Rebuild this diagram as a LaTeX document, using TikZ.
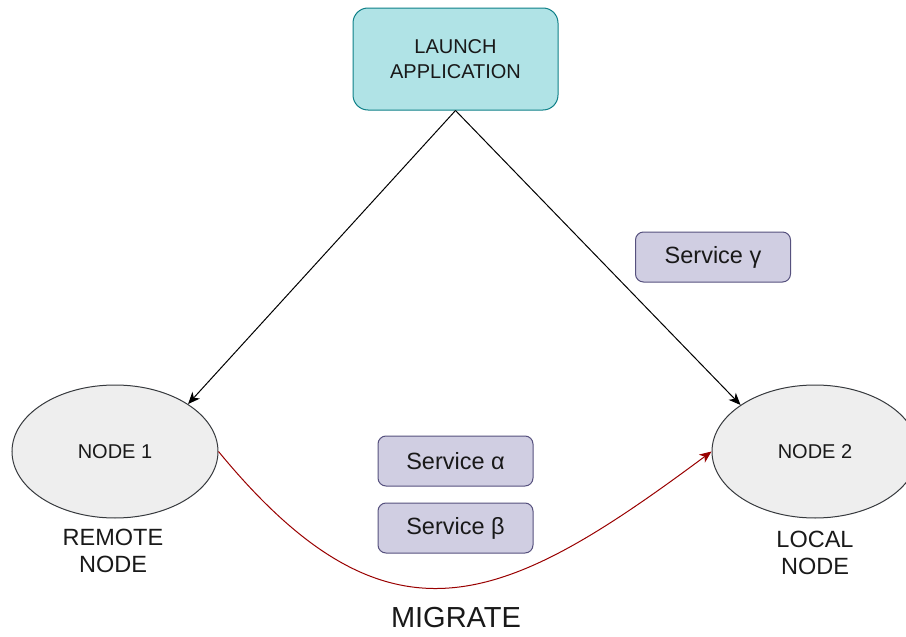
\documentclass[tikz,border=0pt]{standalone}
\usepackage{fontspec}
\setmainfont{Liberation Sans}
\usepackage{tikz}
\usetikzlibrary{calc,positioning,shapes,shapes.geometric,arrows,arrows.meta}

\definecolor{launchfill}{HTML}{B0E3E6}
\definecolor{launchline}{HTML}{0E8088}
\definecolor{servfill}{HTML}{D0CEE2}
\definecolor{servline}{HTML}{56517E}
\definecolor{nodefill}{HTML}{EEEEEE}
\definecolor{nodeline}{HTML}{36393D}
\definecolor{migred}{HTML}{990000}

\begin{document}
\begin{tikzpicture}[x=1pt, y=-1pt, line width=1pt]
\tikzstyle{launch}=[rectangle, rounded corners=15pt, draw=launchline, fill=launchfill,
                    minimum width=205pt, minimum height=102pt, align=center,
                    text=black!90, font=\fontsize{20}{25}\selectfont]
\tikzstyle{service}=[rectangle, rounded corners=8pt, draw=servline, fill=servfill,
                     minimum width=155pt, minimum height=50pt, inner sep=0pt,
                     text=black!90, font=\fontsize{23.5}{27}\selectfont]
\tikzstyle{host}=[ellipse, draw=nodeline, fill=nodefill, inner sep=0pt,
                  minimum width=206pt, minimum height=133pt,
                  text=black!90, font=\fontsize{20}{24}\selectfont]
\tikzstyle{caption}=[align=center, inner sep=0pt, text=black!90,
                     font=\fontsize{23.5}{27}\selectfont]
\tikzstyle{tip}=[-{Stealth[length=12pt,width=10pt,inset=3.5pt]}]
\useasboundingbox (0,0) rectangle (906,637);
\node[launch] (launch) at (455.5,59) {LAUNCH\\APPLICATION};
\node[host] (n1) at (115,451.5) {NODE 1};
\node[host] (n2) at (815,451.5) {NODE 2};
\node[service] (gamma) at (713,257) {Service γ};
\node[service] (alpha) at (455.5,461) {Service α};
\node[service] (beta)  at (455.5,528) {Service β};
\node[caption] (remote) at (113,551) {REMOTE\\NODE};
\node[caption] (local)  at (815,553) {LOCAL\\NODE};
\node[caption, font=\fontsize{29}{34}\selectfont] (migrate) at (456,618) {MIGRATE};
\draw[tip] (launch.south) -- (n1.33);
\draw[tip] (launch.south) -- (n2.148);
\draw[migred, tip]
  (n1.east) .. controls (390,660) and (505,605) .. (n2.west);
\end{tikzpicture}
\end{document}
